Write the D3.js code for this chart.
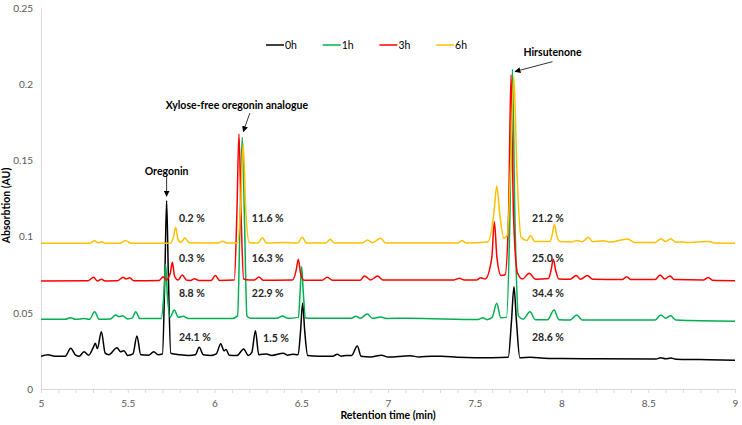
<!DOCTYPE html>
<html>
<head>
<meta charset="utf-8">
<script src="https://cdn.jsdelivr.net/npm/d3@7"></script>
<style>
  body { margin: 0; background: #fff; }
  text { font-family: Lato, "Liberation Sans", sans-serif; }
</style>
</head>
<body>
<div id="chart"></div>
<script>
// retention time (min) / absorption (AU)
const trace0h = [
  [5.00,0.0215],[5.04,0.0225],[5.08,0.0215],[5.14,0.0215],[5.171,0.0267],[5.20,0.0222],[5.22,0.0215],
  [5.248,0.0245],[5.275,0.0222],[5.30,0.027],[5.313,0.030],[5.325,0.0265],[5.348,0.0376],[5.37,0.0235],
  [5.39,0.0225],[5.438,0.0271],[5.458,0.0245],[5.478,0.0251],[5.50,0.022],[5.53,0.023],[5.553,0.0348],
  [5.575,0.0225],[5.62,0.0222],[5.65,0.0245],[5.675,0.0225],[5.700,0.023],[5.714,0.075],[5.724,0.1236],
  [5.734,0.075],[5.748,0.0235],[5.80,0.0225],[5.85,0.022],[5.89,0.0225],[5.912,0.0274],[5.935,0.0225],
  [5.98,0.022],[6.01,0.023],[6.036,0.0297],[6.055,0.025],[6.066,0.026],[6.085,0.0222],[6.13,0.022],
  [6.168,0.0262],[6.195,0.022],[6.215,0.024],[6.236,0.0383],[6.255,0.0225],[6.30,0.023],[6.33,0.022],
  [6.397,0.0235],[6.42,0.0222],[6.45,0.0228],[6.482,0.0225],[6.496,0.038],[6.508,0.0562],[6.520,0.038],
  [6.537,0.022],[6.60,0.0215],[6.68,0.0215],[6.708,0.0228],[6.73,0.0215],[6.76,0.022],[6.79,0.022],
  [6.823,0.0282],[6.845,0.0215],[6.90,0.021],[6.963,0.0222],[7.00,0.021],[7.127,0.0218],[7.18,0.021],
  [7.252,0.0215],[7.31,0.0215],[7.40,0.0208],[7.50,0.0205],[7.60,0.0205],[7.693,0.0208],[7.712,0.045],
  [7.726,0.0671],[7.740,0.045],[7.760,0.0205],[7.82,0.0208],[7.90,0.0202],[8.00,0.020],[8.20,0.0198],
  [8.545,0.0197],[8.572,0.0205],[8.60,0.0198],[8.63,0.0203],[8.66,0.0196],[8.80,0.0193],[9.00,0.0188]
];
const trace1h = [
  [5.00,0.0457],[5.14,0.0457],[5.169,0.0468],[5.20,0.0457],[5.248,0.0462],[5.28,0.0458],[5.309,0.0507],
  [5.335,0.0458],[5.40,0.046],[5.43,0.0486],[5.45,0.0475],[5.47,0.048],[5.50,0.046],[5.525,0.0465],
  [5.546,0.0507],[5.57,0.0462],[5.693,0.0462],[5.708,0.062],[5.718,0.0818],[5.728,0.062],[5.744,0.047],
  [5.768,0.0518],[5.792,0.047],[5.82,0.0478],[5.85,0.0462],[6.10,0.0462],[6.133,0.048],[6.148,0.115],
  [6.160,0.165],[6.172,0.115],[6.187,0.048],[6.205,0.0464],[6.36,0.0464],[6.393,0.0479],[6.42,0.0464],
  [6.484,0.047],[6.494,0.065],[6.502,0.0803],[6.511,0.065],[6.524,0.0468],[6.55,0.0464],[6.79,0.0464],
  [6.814,0.0478],[6.84,0.0464],[6.881,0.0492],[6.91,0.0464],[6.958,0.0472],[6.99,0.0463],[7.12,0.0464],
  [7.52,0.0456],[7.546,0.0468],[7.57,0.0455],[7.60,0.047],[7.627,0.0562],[7.65,0.0468],[7.683,0.047],
  [7.703,0.115],[7.717,0.2098],[7.731,0.115],[7.752,0.0478],[7.78,0.0458],[7.818,0.0507],[7.85,0.0455],
  [7.92,0.0455],[7.957,0.0518],[7.985,0.0455],[8.05,0.0453],[8.087,0.0486],[8.12,0.0453],[8.54,0.0452],
  [8.572,0.0486],[8.60,0.0465],[8.629,0.048],[8.66,0.0452],[9.00,0.0444]
];
const trace3h = [
  [5.00,0.0709],[5.27,0.071],[5.303,0.0733],[5.325,0.0708],[5.348,0.072],[5.37,0.0709],[5.44,0.071],
  [5.473,0.0733],[5.49,0.0722],[5.511,0.073],[5.535,0.071],[5.68,0.0712],[5.705,0.0737],[5.72,0.0715],
  [5.745,0.076],[5.757,0.0831],[5.77,0.074],[5.79,0.0715],[5.814,0.0748],[5.84,0.0713],[5.862,0.0712],
  [5.884,0.0724],[5.91,0.0712],[5.98,0.0712],[6.005,0.0744],[6.03,0.0712],[6.114,0.0715],[6.129,0.115],
  [6.141,0.1673],[6.153,0.115],[6.168,0.0722],[6.20,0.0715],[6.23,0.0715],[6.256,0.0735],[6.28,0.0714],
  [6.45,0.0715],[6.471,0.078],[6.483,0.0852],[6.496,0.076],[6.515,0.0714],[6.62,0.0714],[6.65,0.0733],
  [6.68,0.0714],[6.84,0.0714],[6.864,0.0741],[6.90,0.0716],[6.94,0.0741],[6.97,0.0716],[7.38,0.0716],
  [7.411,0.0726],[7.44,0.0715],[7.51,0.0716],[7.534,0.073],[7.56,0.0722],[7.598,0.086],[7.613,0.1098],
  [7.628,0.086],[7.652,0.0745],[7.675,0.075],[7.695,0.115],[7.709,0.206],[7.723,0.115],[7.747,0.076],
  [7.775,0.0722],[7.814,0.0759],[7.85,0.072],[7.925,0.0725],[7.940,0.078],[7.953,0.0851],[7.966,0.078],
  [7.985,0.0722],[8.05,0.072],[8.084,0.0745],[8.11,0.072],[8.149,0.0745],[8.18,0.072],[8.35,0.0718],
  [8.376,0.0737],[8.40,0.0718],[8.54,0.0718],[8.568,0.0748],[8.595,0.0722],[8.625,0.0742],[8.65,0.0718],
  [8.82,0.0716],[8.846,0.0732],[8.87,0.0714],[9.00,0.0711]
];
const trace6h = [
  [5.00,0.0956],[5.28,0.0956],[5.309,0.0972],[5.33,0.096],[5.352,0.0966],[5.37,0.0956],[5.455,0.0957],
  [5.486,0.0975],[5.52,0.0957],[5.745,0.0957],[5.764,0.100],[5.776,0.1061],[5.789,0.0985],[5.805,0.0962],
  [5.83,0.099],[5.855,0.096],[6.02,0.0958],[6.047,0.097],[6.07,0.0958],[6.132,0.096],[6.150,0.118],
  [6.165,0.161],[6.180,0.118],[6.200,0.0962],[6.25,0.0958],[6.276,0.0993],[6.30,0.0958],[6.40,0.0962],
  [6.48,0.0958],[6.506,0.0995],[6.53,0.0958],[6.64,0.0958],[6.668,0.0982],[6.69,0.0958],[6.85,0.0958],
  [6.883,0.0978],[6.91,0.096],[6.958,0.0989],[6.985,0.0958],[7.40,0.0958],[7.428,0.0972],[7.45,0.0958],
  [7.575,0.0965],[7.610,0.115],[7.627,0.1332],[7.644,0.115],[7.668,0.099],[7.688,0.101],[7.707,0.148],
  [7.725,0.205],[7.743,0.143],[7.767,0.0995],[7.80,0.0975],[7.822,0.1006],[7.845,0.0968],[7.932,0.0968],
  [7.946,0.101],[7.959,0.108],[7.972,0.101],[7.99,0.0968],[8.06,0.0965],[8.091,0.0975],[8.12,0.0966],
  [8.155,0.0995],[8.18,0.0966],[8.24,0.0972],[8.28,0.0964],[8.381,0.0984],[8.42,0.0962],[8.54,0.0962],
  [8.573,0.0986],[8.60,0.0968],[8.629,0.0986],[8.66,0.0963],[8.70,0.0965],[8.72,0.0962],[8.85,0.0968],
  [8.88,0.0958],[9.00,0.0956]
];

const seriesNames = ["0h", "1h", "3h", "6h"];
const seriesColors = ["#000000", "#00b050", "#ff0000", "#ffc000"];
const seriesData = [trace0h, trace1h, trace3h, trace6h];

const xTickValues = [5, 5.5, 6, 6.5, 7, 7.5, 8, 8.5, 9];
const yTickValues = [0, 0.05, 0.1, 0.15, 0.2, 0.25];

// relative amounts: [time, absorbance, text]
const pctLabels = [
  [5.795, 0.1124, "0.2 %"], [5.795, 0.0857, "0.3 %"], [5.795, 0.0627, "8.8 %"], [5.795, 0.0339, "24.1 %"],
  [6.215, 0.1124, "11.6 %"], [6.215, 0.0857, "16.3 %"], [6.215, 0.0627, "22.9 %"], [6.280, 0.0332, "1.5 %"],
  [7.830, 0.1124, "21.2 %"], [7.830, 0.0857, "25.0 %"], [7.830, 0.0627, "34.4 %"], [7.830, 0.0339, "28.6 %"]
];

// compound names with their arrows: label pos, arrow start, arrow end
const compounds = [
  { name: "Oregonin", at: [5.724, 0.1432], from: [5.724, 0.1404], to: [5.724, 0.1265] },
  { name: "Xylose-free oregonin analogue", at: [6.129, 0.1863], from: [6.204, 0.1811], to: [6.166, 0.1689] },
  { name: "Hirsutenone", at: [7.948, 0.2208], from: [7.948, 0.2148], to: [7.732, 0.2083] }
];

const W = 742, H = 425;
const margin = { top: 8, right: 7, bottom: 36, left: 41 };
const width = W - margin.left - margin.right;
const height = H - margin.top - margin.bottom;

const svg = d3.select("#chart").append("svg")
  .attr("width", W)
  .attr("height", H);

svg.append("defs").append("marker")
  .attr("id", "arrow")
  .attr("viewBox", "0 0 10 10")
  .attr("refX", 9).attr("refY", 5)
  .attr("markerWidth", 6).attr("markerHeight", 6)
  .attr("markerUnits", "userSpaceOnUse")
  .attr("orient", "auto")
  .append("path")
  .attr("d", "M0,0L10,5L0,10z")
  .attr("fill", "#000");

const g = svg.append("g")
  .attr("transform", "translate(" + margin.left + "," + margin.top + ")");

const x = d3.scaleLinear().domain([5, 9]).range([0, width]);
const y = d3.scaleLinear().domain([0, 0.25]).range([height, 0]);

// x axis: ticks every 0.1, labels every 0.5
const xAxis = g.append("g")
  .attr("transform", "translate(0," + height + ")")
  .call(d3.axisBottom(x)
    .tickValues(d3.range(50, 91).map(d => d / 10))
    .tickSize(4)
    .tickFormat(d => xTickValues.some(v => Math.abs(v - d) < 1e-9) ? d3.format("")(d) : ""));
xAxis.select(".domain").attr("stroke", "#d9d9d9");
xAxis.selectAll(".tick line").attr("stroke", "#d9d9d9");
xAxis.selectAll(".tick text")
  .attr("fill", "#595959")
  .attr("font-size", "10px")
  .attr("dy", "1.1em");

const yAxis = g.append("g")
  .call(d3.axisLeft(y).tickValues(yTickValues).tickSize(0).tickPadding(8).tickFormat(d3.format("")));
yAxis.select(".domain").attr("stroke", "#d9d9d9");
yAxis.selectAll(".tick text")
  .attr("fill", "#595959")
  .attr("font-size", "10px");

g.append("text")
  .attr("x", width / 2)
  .attr("y", height + 30)
  .attr("text-anchor", "middle")
  .attr("font-size", "10.5px")
  .attr("font-weight", "bold")
  .attr("fill", "#000")
  .text("Retention time (min)");

g.append("text")
  .attr("transform", "translate(" + (-31) + "," + (height / 2 + 7) + ") rotate(-90)")
  .attr("text-anchor", "middle")
  .attr("font-size", "10.5px")
  .attr("font-weight", "bold")
  .attr("fill", "#000")
  .text("Absorbtion (AU)");

const line = d3.line()
  .x(d => x(d[0]))
  .y(d => y(d[1]))
  .curve(d3.curveMonotoneX);

seriesData.forEach((data, i) => {
  g.append("path")
    .datum(data)
    .attr("fill", "none")
    .attr("stroke", seriesColors[i])
    .attr("stroke-width", 1.5)
    .attr("stroke-linejoin", "round")
    .attr("d", line);
});

// legend
const legend = svg.append("g").attr("transform", "translate(266,45)");
seriesNames.forEach((name, i) => {
  const lg = legend.append("g").attr("transform", "translate(" + (i * 56.7) + ",0)");
  lg.append("line")
    .attr("x1", 0).attr("x2", 18)
    .attr("stroke", seriesColors[i])
    .attr("stroke-width", 1.5);
  lg.append("text")
    .attr("x", 19).attr("y", 3.8)
    .attr("font-size", "10.5px")
    .attr("fill", "#000")
    .text(name);
});

g.selectAll(".pct")
  .data(pctLabels)
  .enter().append("text")
  .attr("class", "pct")
  .attr("x", d => x(d[0]))
  .attr("y", d => y(d[1]) + 3.8)
  .attr("font-size", "10.5px")
  .attr("font-weight", "bold")
  .attr("fill", "#262626")
  .text(d => d[2]);

compounds.forEach(c => {
  g.append("text")
    .attr("x", x(c.at[0]))
    .attr("y", y(c.at[1]) + 3.8)
    .attr("text-anchor", "middle")
    .attr("font-size", "10.5px")
    .attr("font-weight", "bold")
    .attr("fill", "#000")
    .text(c.name);
  g.append("line")
    .attr("x1", x(c.from[0])).attr("y1", y(c.from[1]))
    .attr("x2", x(c.to[0])).attr("y2", y(c.to[1]))
    .attr("stroke", "#000")
    .attr("stroke-width", 0.8)
    .attr("marker-end", "url(#arrow)");
});
</script>
</body>
</html>
